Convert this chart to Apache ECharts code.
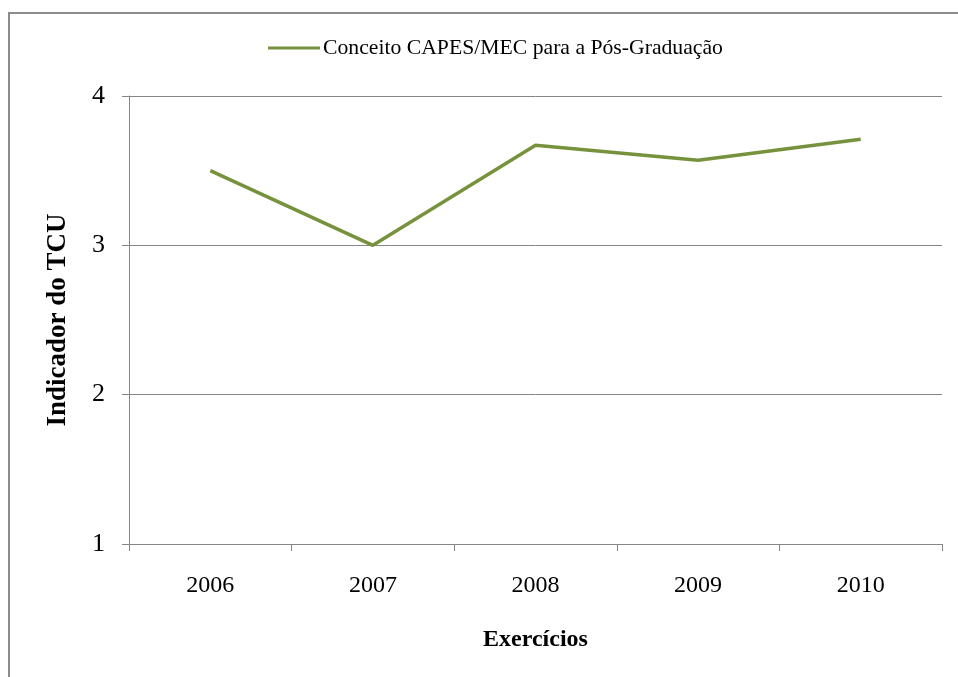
<!DOCTYPE html>
<html>
<head>
<meta charset="utf-8">
<script src="https://cdn.jsdelivr.net/npm/echarts@6/dist/echarts.min.js"></script>
<style>
  html, body { margin: 0; padding: 0; background: #fff; }
  #chart { width: 958px; height: 677px; }
</style>
</head>
<body>
<div id="chart"></div>
<script>
// Anos dos exercícios e conceito médio da pós-graduação
const exercicios = ['2006', '2007', '2008', '2009', '2010'];
const conceitoCapes = [3.5, 3.0, 3.67, 3.57, 3.71];
const serieNome = 'Conceito CAPES/MEC para a Pós-Graduação';
const eixoYTicks = [1, 2, 3, 4];

const serif = '"Liberation Serif", "Times New Roman", serif';
const gray = '#868686';
const olive = '#76923C';

const chart = echarts.init(document.getElementById('chart'), null, { renderer: 'canvas' });

chart.setOption({
  backgroundColor: '#ffffff',
  animation: false,
  graphic: [{
    type: 'rect',
    shape: { x: 9, y: 13, width: 1000, height: 700 },
    style: { fill: 'none', stroke: '#8c8c8c', lineWidth: 2 },
    silent: true,
    z: -10
  }],
  legend: {
    left: 268,
    top: 37,
    padding: 0,
    icon: 'rect',
    itemWidth: 52,
    itemHeight: 3,
    itemGap: 10,
    textStyle: { fontFamily: serif, fontSize: 21.7, color: '#000', padding: [0, 0, 0, -2] },
    data: [serieNome]
  },
  grid: { left: 129, right: 16, top: 96, bottom: 133, containLabel: false },
  xAxis: {
    type: 'category',
    data: exercicios,
    boundaryGap: true,
    name: 'Exercícios',
    nameLocation: 'middle',
    nameGap: 84,
    nameTextStyle: { fontFamily: serif, fontSize: 24, fontWeight: 'bold', color: '#000' },
    axisLine: { lineStyle: { color: gray, width: 1 } },
    axisTick: { show: true, length: 7, lineStyle: { color: gray } },
    axisLabel: { fontFamily: serif, fontSize: 24, color: '#000', margin: 30 }
  },
  yAxis: {
    type: 'value',
    min: eixoYTicks[0],
    max: eixoYTicks[eixoYTicks.length - 1],
    interval: 1,
    name: 'Indicador do TCU',
    nameLocation: 'middle',
    nameGap: 57,
    nameRotate: 90,
    nameTextStyle: { fontFamily: serif, fontSize: 27, fontWeight: 'bold', color: '#000' },
    axisLine: { show: true, lineStyle: { color: gray, width: 1 } },
    axisTick: { show: true, length: 7, lineStyle: { color: gray } },
    axisLabel: { fontFamily: serif, fontSize: 26, color: '#000', margin: 24 },
    splitLine: { show: true, lineStyle: { color: gray, width: 1 } }
  },
  series: [{
    name: serieNome,
    type: 'line',
    data: conceitoCapes,
    symbol: 'none',
    lineStyle: { color: olive, width: 3.5 },
    itemStyle: { color: olive }
  }]
});
</script>
</body>
</html>
